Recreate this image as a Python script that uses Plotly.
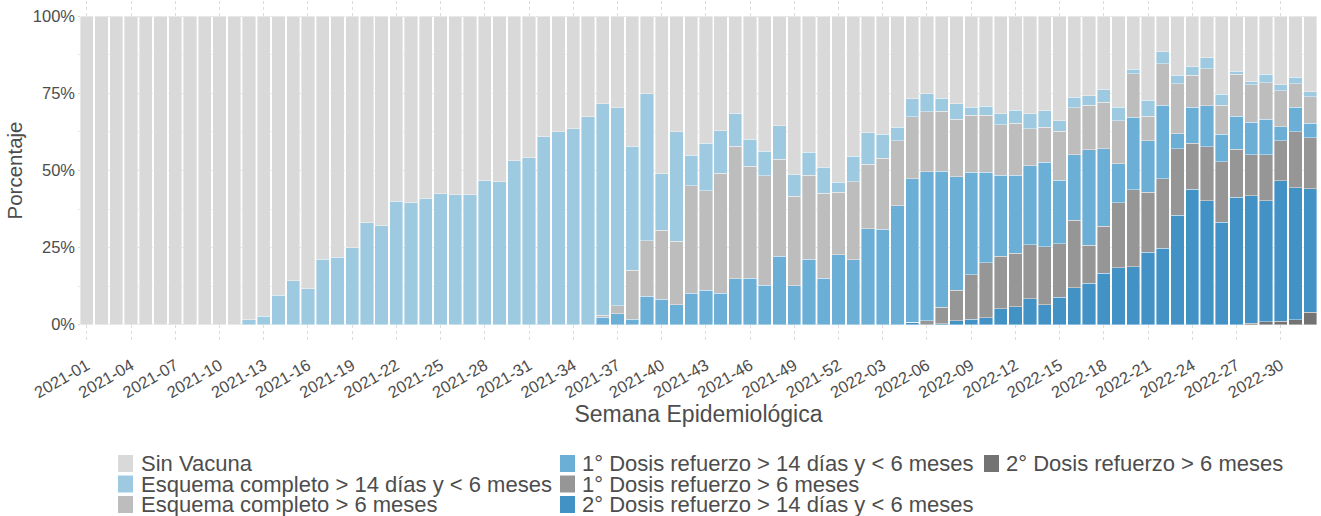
import plotly.graph_objects as go

# ---------------- data ----------------
weeks = [
    "2021-01", "2021-02", "2021-03", "2021-04", "2021-05", "2021-06", "2021-07", "2021-08", "2021-09", "2021-10",
    "2021-11", "2021-12", "2021-13", "2021-14", "2021-15", "2021-16", "2021-17", "2021-18", "2021-19", "2021-20",
    "2021-21", "2021-22", "2021-23", "2021-24", "2021-25", "2021-26", "2021-27", "2021-28", "2021-29", "2021-30",
    "2021-31", "2021-32", "2021-33", "2021-34", "2021-35", "2021-36", "2021-37", "2021-38", "2021-39", "2021-40",
    "2021-41", "2021-42", "2021-43", "2021-44", "2021-45", "2021-46", "2021-47", "2021-48", "2021-49", "2021-50",
    "2021-51", "2021-52", "2022-01", "2022-02", "2022-03", "2022-04", "2022-05", "2022-06", "2022-07", "2022-08",
    "2022-09", "2022-10", "2022-11", "2022-12", "2022-13", "2022-14", "2022-15", "2022-16", "2022-17", "2022-18",
    "2022-19", "2022-20", "2022-21", "2022-22", "2022-23", "2022-24", "2022-25", "2022-26", "2022-27", "2022-28",
    "2022-29", "2022-30", "2022-31", "2022-32",
]
tick_labels = [
    "2021-01", "2021-04", "2021-07", "2021-10", "2021-13", "2021-16", "2021-19", "2021-22", "2021-25", "2021-28",
    "2021-31", "2021-34", "2021-37", "2021-40", "2021-43", "2021-46", "2021-49", "2021-52", "2022-03", "2022-06",
    "2022-09", "2022-12", "2022-15", "2022-18", "2022-21", "2022-24", "2022-27", "2022-30",
]
y_tick_values = [0, 25, 50, 75, 100]
y_tick_text = ["0%", "25%", "50%", "75%", "100%"]

sin_vacuna = [
    100, 100, 100, 100, 100, 100, 100, 100, 100, 100,
    100, 98.4, 97.3, 90.5, 85.7, 88.3, 78.8, 78.2, 75.0, 66.9,
    67.9, 59.9, 60.4, 59.1, 57.6, 57.8, 57.8, 53.3, 53.7, 46.8,
    45.8, 39.0, 37.5, 36.4, 32.6, 28.3, 29.6, 42.2, 25.1, 51.0,
    37.5, 45.0, 41.1, 37.1, 31.4, 39.9, 43.7, 35.5, 51.4, 44.0,
    48.9, 53.8, 45.3, 37.7, 38.2, 36.0, 26.7, 25.1, 26.5, 28.3,
    29.5, 29.1, 31.6, 30.4, 31.6, 30.6, 33.9, 26.3, 25.7, 23.6,
    29.5, 17.1, 27.2, 11.4, 19.1, 16.3, 13.4, 25.3, 17.8, 21.2,
    18.7, 22.2, 19.8, 24.4,
]
esquema_14d = [
    0, 0, 0, 0, 0, 0, 0, 0, 0, 0,
    0, 1.6, 2.7, 9.5, 14.3, 11.7, 21.2, 21.8, 25.0, 33.1,
    32.1, 40.1, 39.6, 40.9, 42.4, 42.2, 42.2, 46.7, 46.3, 53.2,
    54.2, 61.0, 62.5, 63.6, 67.4, 68.7, 64.3, 40.2, 47.7, 18.4,
    35.4, 9.9, 15.5, 13.8, 10.8, 8.7, 8.0, 10.9, 6.9, 7.5,
    8.5, 3.2, 8.4, 10.2, 7.9, 4.4, 5.9, 5.9, 4.3, 5.1,
    2.5, 3.0, 3.6, 4.3, 4.9, 5.4, 3.4, 3.3, 3.2, 4.2,
    4.3, 1.5, 5.2, 4.0, 2.7, 2.8, 3.6, 3.5, 1.0, 0.9,
    2.8, 2.0, 2.1, 1.7,
]
esquema_6m = [
    0, 0, 0, 0, 0, 0, 0, 0, 0, 0,
    0, 0, 0, 0, 0, 0, 0, 0, 0, 0,
    0, 0, 0, 0, 0, 0, 0, 0, 0, 0,
    0, 0, 0, 0, 0, 0.6, 2.6, 15.8, 18.0, 22.4,
    20.7, 34.9, 32.3, 38.9, 43.0, 36.4, 35.5, 31.4, 29.1, 27.3,
    27.5, 20.4, 25.2, 21.0, 22.9, 21.1, 20.0, 19.4, 19.5, 18.7,
    18.5, 18.4, 16.3, 16.8, 11.9, 11.4, 15.9, 15.3, 14.3, 15.2,
    14.0, 14.2, 7.9, 13.5, 16.3, 10.3, 12.0, 9.4, 13.6, 12.3,
    11.8, 11.6, 7.5, 8.5,
]
refuerzo1_14d = [
    0, 0, 0, 0, 0, 0, 0, 0, 0, 0,
    0, 0, 0, 0, 0, 0, 0, 0, 0, 0,
    0, 0, 0, 0, 0, 0, 0, 0, 0, 0,
    0, 0, 0, 0, 0, 2.4, 3.5, 1.8, 9.2, 8.2,
    6.4, 10.2, 11.1, 10.2, 14.8, 15.0, 12.8, 22.2, 12.6, 21.2,
    15.1, 22.6, 21.1, 31.1, 31.0, 38.5, 46.6, 48.3, 44.0, 36.7,
    33.3, 29.5, 26.4, 25.3, 25.7, 27.4, 20.5, 21.2, 31.1, 25.1,
    12.7, 23.4, 16.8, 23.7, 4.8, 11.7, 13.3, 8.9, 10.7, 10.5,
    11.6, 4.6, 8.1, 4.8,
]
refuerzo1_6m = [
    0, 0, 0, 0, 0, 0, 0, 0, 0, 0,
    0, 0, 0, 0, 0, 0, 0, 0, 0, 0,
    0, 0, 0, 0, 0, 0, 0, 0, 0, 0,
    0, 0, 0, 0, 0, 0, 0, 0, 0, 0,
    0, 0, 0, 0, 0, 0, 0, 0, 0, 0,
    0, 0, 0, 0, 0, 0, 0, 1.3, 5.4, 9.9,
    14.5, 17.7, 16.9, 17.4, 17.5, 18.8, 17.5, 22.0, 12.3, 15.3,
    21.1, 25.0, 19.4, 22.6, 21.7, 15.0, 17.5, 19.7, 15.5, 13.3,
    14.9, 12.9, 18.1, 16.5,
]
refuerzo2_14d = [
    0, 0, 0, 0, 0, 0, 0, 0, 0, 0,
    0, 0, 0, 0, 0, 0, 0, 0, 0, 0,
    0, 0, 0, 0, 0, 0, 0, 0, 0, 0,
    0, 0, 0, 0, 0, 0, 0, 0, 0, 0,
    0, 0, 0, 0, 0, 0, 0, 0, 0, 0,
    0, 0, 0, 0, 0, 0, 0.8, 0, 0.3, 1.3,
    1.7, 2.3, 5.2, 5.8, 8.4, 6.4, 8.8, 11.9, 13.4, 16.6,
    18.4, 18.8, 23.5, 24.8, 35.4, 43.9, 40.2, 33.2, 41.4, 41.3,
    39.3, 45.6, 42.8, 40.1,
]
refuerzo2_6m = [
    0, 0, 0, 0, 0, 0, 0, 0, 0, 0,
    0, 0, 0, 0, 0, 0, 0, 0, 0, 0,
    0, 0, 0, 0, 0, 0, 0, 0, 0, 0,
    0, 0, 0, 0, 0, 0, 0, 0, 0, 0,
    0, 0, 0, 0, 0, 0, 0, 0, 0, 0,
    0, 0, 0, 0, 0, 0, 0, 0, 0, 0,
    0, 0, 0, 0, 0, 0, 0, 0, 0, 0,
    0, 0, 0, 0, 0, 0, 0, 0, 0, 0.5,
    0.9, 1.1, 1.6, 4.0,
]

# stacking order: bottom -> top
series = [
    ("2° Dosis refuerzo > 6 meses", refuerzo2_6m, "#737373"),
    ("2° Dosis refuerzo > 14 días y < 6 meses", refuerzo2_14d, "#4292C6"),
    ("1° Dosis refuerzo > 6 meses", refuerzo1_6m, "#969696"),
    ("1° Dosis refuerzo > 14 días y < 6 meses", refuerzo1_14d, "#6BAED6"),
    ("Esquema completo > 6 meses", esquema_6m, "#BDBDBD"),
    ("Esquema completo > 14 días y < 6 meses", esquema_14d, "#9ECAE1"),
    ("Sin Vacuna", sin_vacuna, "#D9D9D9"),
]
color_of = {n: c for n, _, c in series}

# legend layout (column-major, as in the reference)
legend_columns = [
    ["Sin Vacuna", "Esquema completo > 14 días y < 6 meses", "Esquema completo > 6 meses"],
    ["1° Dosis refuerzo > 14 días y < 6 meses", "1° Dosis refuerzo > 6 meses",
     "2° Dosis refuerzo > 14 días y < 6 meses"],
    ["2° Dosis refuerzo > 6 meses"],
]

# ---------------- figure ----------------
W, H = 1321, 516
ML, MR, MT, MB = 78, 2, 1, 176
PW, PH = W - ML - MR, H - MT - MB
TXT = "#4D4D4D"
FONT = "Liberation Sans, Arial, sans-serif"

fig = go.Figure()
for name, vals, col in series:
    fig.add_bar(
        x=weeks, y=vals, name=name, showlegend=False,
        marker=dict(color=col, line=dict(color="white", width=0.4)),
    )

fig.update_layout(
    width=W, height=H,
    margin=dict(l=ML, r=MR, t=MT, b=MB, pad=0, autoexpand=False),
    barmode="stack", barnorm="percent", bargap=0.1,
    paper_bgcolor="white", plot_bgcolor="white",
    font=dict(family=FONT, color=TXT),
    showlegend=False,
)
fig.update_xaxes(
    automargin=False,
    type="category", range=[-0.6, len(weeks) - 0.4],
    tickmode="array", tickvals=tick_labels, ticktext=tick_labels,
    tickangle=-30, tickfont=dict(size=16.5, color=TXT), ticklabelstandoff=12,
    showgrid=True, gridcolor="#DCDCDC", griddash="dot", gridwidth=1,
    showline=False, zeroline=False, ticks="",
    title=dict(text="Semana Epidemiológica", font=dict(size=23, color=TXT), standoff=3),
)
fig.update_yaxes(
    automargin=False,
    range=[-5, 105], tickmode="array", tickvals=y_tick_values, ticktext=y_tick_text,
    tickfont=dict(size=16.5, color=TXT), ticklabelstandoff=2,
    showgrid=True, gridcolor="#DCDCDC", griddash="dot", gridwidth=1,
    minor=dict(tickmode="array", tickvals=[12.5, 37.5, 62.5, 87.5], showgrid=True,
               gridcolor="#E6E6E6", griddash="dot", gridwidth=1),
    showline=False, zeroline=False, ticks="",
    title=dict(text="Porcentaje", font=dict(size=20.5, color=TXT), standoff=4),
)

# manual column-major legend
col_swatch_x = [118, 560, 984]
col_text_x = [139, 580, 1004]
row_center_y = [463.5, 484, 504.5]
sw_w, sw_h = 15, 17
for ci, names in enumerate(legend_columns):
    for ri, name in enumerate(names):
        cy = row_center_y[ri]
        fig.add_shape(
            type="rect", xref="paper", yref="paper",
            xsizemode="pixel", ysizemode="pixel", xanchor=0, yanchor=0,
            x0=col_swatch_x[ci] - ML, x1=col_swatch_x[ci] - ML + sw_w,
            y0=(MT + PH) - (cy + sw_h / 2), y1=(MT + PH) - (cy - sw_h / 2),
            fillcolor=color_of[name], line=dict(width=0),
        )
        fig.add_annotation(
            xref="paper", yref="paper",
            x=(col_text_x[ci] - ML) / PW, y=((MT + PH) - cy) / PH,
            xanchor="left", yanchor="middle", showarrow=False,
            text=name, font=dict(size=22, color=TXT, family=FONT),
        )

# the page's default body margin would offset the figure by 8 px
fig.write_html(
    "out.html",
    config={"displayModeBar": False},
    post_script="document.body.style.margin='0px';document.body.style.overflow='hidden';",
)
